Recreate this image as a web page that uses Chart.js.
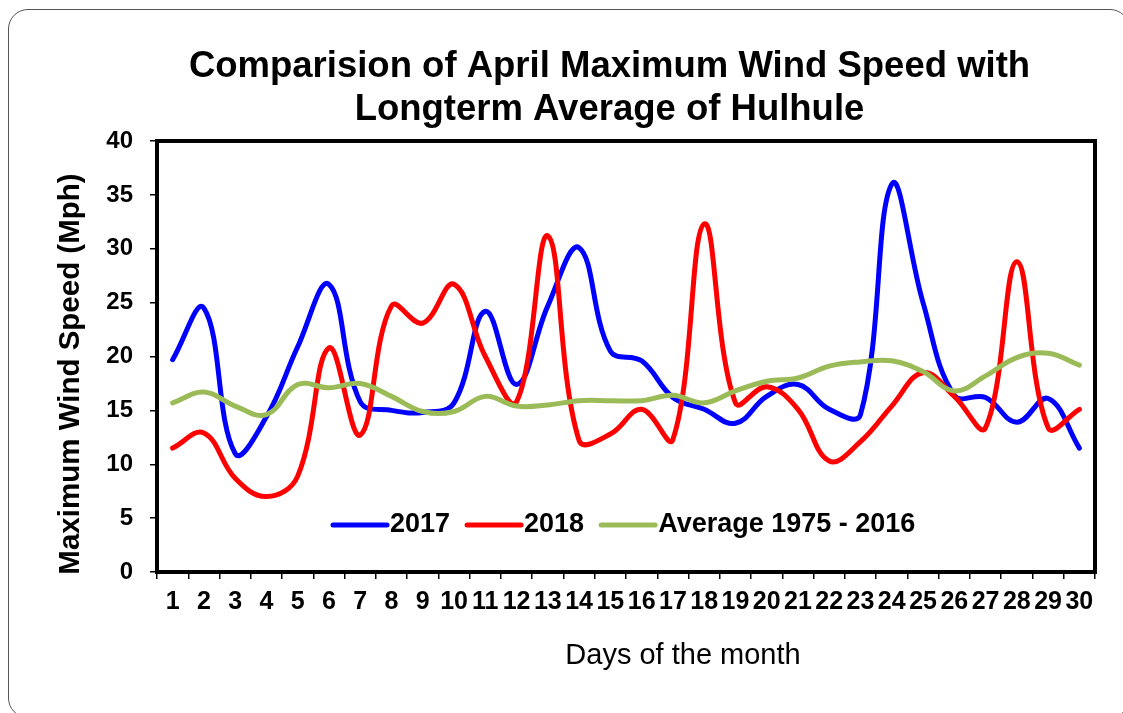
<!DOCTYPE html>
<html>
<head>
<meta charset="utf-8">
<title>April Maximum Wind Speed - Hulhule</title>
<script src="https://cdn.jsdelivr.net/npm/chart.js@4.4.1/dist/chart.umd.min.js"></script>
<style>
  html, body { margin: 0; padding: 0; background: #fff; overflow: hidden; }
  body { width: 1123px; height: 713px; position: relative; }
  .frame { position: absolute; left: 8px; top: 9px; width: 1120px; height: 707px; border: 1px solid #555; border-radius: 20px; }
  .wrap { position: absolute; left: 0; top: 0; width: 1123px; height: 713px; }
</style>
</head>
<body>
<div class="frame"></div>
<div class="wrap"><canvas id="windChart"></canvas></div>
<script>
const days = ['1','2','3','4','5','6','7','8','9','10','11','12','13','14','15',
              '16','17','18','19','20','21','22','23','24','25','26','27','28','29','30'];

const speed2017 = [19.7, 24.5, 11.0, 14.4, 20.9, 26.7, 15.8, 15.0, 14.8, 15.7,
                   24.2, 17.4, 24.7, 30.1, 20.5, 19.6, 16.2, 15.1, 13.8, 16.3,
                   17.4, 15.1, 14.6, 36.0, 25.0, 16.4, 16.2, 13.9, 16.1, 11.5];

const speed2018 = [11.5, 12.9, 8.7, 7.0, 8.9, 20.8, 12.7, 24.7, 23.1, 26.7,
                   20.0, 15.8, 31.2, 12.2, 12.8, 15.1, 12.3, 32.3, 15.7, 17.2,
                   15.1, 10.3, 12.1, 15.4, 18.5, 16.3, 13.4, 28.8, 13.4, 15.1];

const avg1975_2016 = [15.7, 16.7, 15.4, 14.6, 17.4, 17.1, 17.5, 16.3, 14.9, 14.9,
                      16.3, 15.4, 15.5, 15.9, 15.9, 15.9, 16.4, 15.7, 16.8, 17.7,
                      18.0, 19.1, 19.5, 19.6, 18.6, 16.8, 18.2, 19.9, 20.3, 19.2];

const seriesNames = ['2017', '2018', 'Average 1975 - 2016'];
const titleLines = ['Comparision of April Maximum Wind Speed with', 'Longterm Average of Hulhule'];

const FONT = "'Liberation Sans', Arial, sans-serif";

// thick black box round the plot area
const plotFrame = {
  id: 'plotFrame',
  beforeDatasetsDraw(chart) {
    const { ctx, chartArea: a } = chart;
    ctx.save();
    ctx.strokeStyle = '#000';
    ctx.lineWidth = 4;
    ctx.strokeRect(a.left, a.top, a.right - a.left, a.bottom - a.top);
    ctx.restore();
  }
};

// chart title and axis titles, placed where the original has them
const chartTexts = {
  id: 'chartTexts',
  afterDraw(chart) {
    const { ctx } = chart;
    ctx.save();
    ctx.fillStyle = '#000';
    ctx.textAlign = 'center';
    ctx.textBaseline = 'middle';
    ctx.font = 'bold 36.5px ' + FONT;
    titleLines.forEach((line, i) => ctx.fillText(line, 609.5, 67 + i * 42.5));
    ctx.font = '29px ' + FONT;
    ctx.fillText('Days of the month', 683, 656);
    ctx.translate(71, 374);
    ctx.rotate(-Math.PI / 2);
    ctx.font = 'bold 29.5px ' + FONT;
    ctx.fillText('Maximum Wind Speed (Mph)', 0, 0);
    ctx.restore();
  }
};

// legend sits inside the plot, near the bottom
const insideLegend = {
  id: 'insideLegend',
  afterDatasetsDraw(chart) {
    const { ctx } = chart;
    const y = 525;
    let x = 333;
    ctx.save();
    ctx.font = 'bold 27px ' + FONT;
    ctx.textBaseline = 'middle';
    ctx.textAlign = 'left';
    ctx.lineCap = 'round';
    chart.data.datasets.forEach(ds => {
      ctx.strokeStyle = ds.borderColor;
      ctx.lineWidth = 5;
      ctx.beginPath();
      ctx.moveTo(x, y);
      ctx.lineTo(x + 54, y);
      ctx.stroke();
      ctx.fillStyle = '#000';
      ctx.fillText(ds.label, x + 57, y);
      x += 57 + ctx.measureText(ds.label).width + 17;
    });
    ctx.restore();
  }
};

new Chart(document.getElementById('windChart'), {
  type: 'line',
  data: {
    labels: days,
    datasets: [
      { label: seriesNames[0], data: speed2017, borderColor: '#0000ff', order: 2 },
      { label: seriesNames[1], data: speed2018, borderColor: '#ff0000', order: 1 },
      { label: seriesNames[2], data: avg1975_2016, borderColor: '#9bbb59', order: 0 }
    ]
  },
  options: {
    responsive: true, maintainAspectRatio: false, animation: false,
    layout: { padding: { left: 0, right: 28, top: 141, bottom: 0 } },
    elements: {
      line: { borderWidth: 5, tension: 0.4, borderCapStyle: 'round', borderJoinStyle: 'round' },
      point: { radius: 0, hoverRadius: 0 }
    },
    plugins: {
      legend: { display: false },
      tooltip: { enabled: false },
      title: { display: false }
    },
    scales: {
      x: {
        offset: true,
        grid: { offset: true, drawOnChartArea: false, color: '#000', lineWidth: 1.5, tickLength: 7 },
        border: { display: false },
        ticks: { color: '#000', font: { family: FONT, size: 25, weight: 'bold' }, padding: 8, autoSkip: false, maxRotation: 0 },
        afterFit: s => { s.height = 141; }
      },
      y: {
        min: 0, max: 40,
        grid: { drawOnChartArea: false, color: '#000', lineWidth: 1.5, tickLength: 7 },
        border: { display: false },
        ticks: { stepSize: 5, color: '#000', font: { family: FONT, size: 24, weight: 'bold' }, padding: 17 },
        afterFit: s => { s.width = 157; }
      }
    }
  },
  plugins: [plotFrame, chartTexts, insideLegend]
});
</script>
</body>
</html>
